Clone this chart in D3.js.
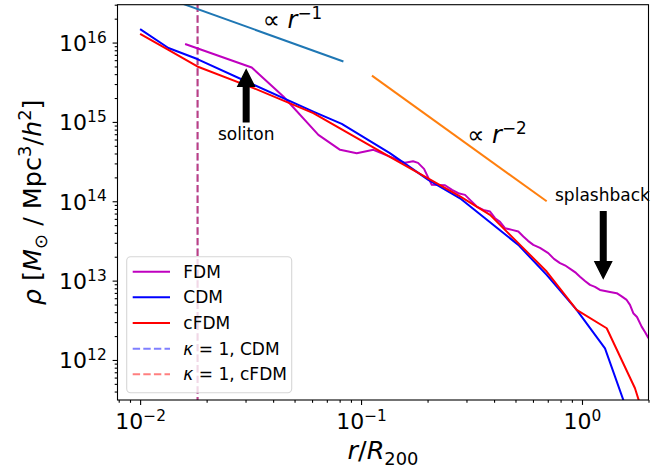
<!DOCTYPE html>
<html>
<head>
<meta charset="utf-8">
<script src="https://cdn.jsdelivr.net/npm/d3@7"></script>
<style>
  html, body { margin: 0; padding: 0; background: #fff; }
  svg { display: block; font-family: "DejaVu Sans", sans-serif; }
</style>
</head>
<body>
<svg id="chart" width="668" height="470"></svg>
<script>
// Stacked radial density profiles, rho(r), for three dark-matter models
const fdmRadius = [0.01598, 0.0320, 0.0445, 0.0641, 0.0804, 0.0956, 0.1137, 0.135, 0.1581, 0.1719,
  0.1811, 0.1928, 0.2089, 0.2399, 0.2581, 0.2757, 0.2955, 0.3147, 0.3339, 0.3576,
  0.3836, 0.4040, 0.4256, 0.4482, 0.4824, 0.5150, 0.5425, 0.5697, 0.6020, 0.6456,
  0.7037, 0.7467, 0.7954, 0.8464, 0.8981, 0.9395, 0.9795, 1.0318, 1.0870, 1.145,
  1.206, 1.271, 1.339, 1.436, 1.501, 1.593, 1.649, 1.707, 1.774, 1.862, 1.928, 2.0];
const fdmDensity = [9.58e15, 4.85e15, 2.09e15, 6.87e14, 4.45e14, 4.04e14, 4.45e14, 3.66e14, 3.05e14, 3.19e14,
  3.05e14, 2.56e14, 1.61e14, 1.59e14, 1.39e14, 1.265e14, 1.204e14, 1.012e14, 8.58e13, 7.79e13,
  7.42e13, 6.12e13, 5.50e13, 4.58e13, 4.36e13, 4.15e13, 3.59e13, 3.17e13, 2.82e13, 2.58e13,
  2.22e13, 1.88e13, 1.66e13, 1.53e13, 1.365e13, 1.25e13, 1.12e13, 9.91e12, 8.83e12, 8.33e12,
  7.63e12, 7.42e12, 7.20e12, 6.94e12, 6.41e12, 5.71e12, 4.94e12, 3.88e12, 3.48e12, 2.63e12, 2.25e12, 1.88e12];

const cdmRadius = [0.01, 0.01343, 0.01815, 0.0326, 0.0608, 0.0818, 0.135, 0.2016, 0.2805, 0.515, 0.692, 0.946, 1.271, 1.70];
const cdmDensity = [1.48e16, 8.53e15, 6.2e15, 2.94e15, 1.35e15, 9.46e14, 4.04e14, 1.86e14, 1.09e14, 2.82e13, 1.18e13, 4.27e12, 1.40e12, 1.43e11];

const cfdmRadius = [0.01, 0.01343, 0.01815, 0.0326, 0.0608, 0.135, 0.2805, 0.3836, 0.515, 0.692, 0.946, 1.294, 1.737, 1.9];
const cfdmDensity = [1.29e16, 8.11e15, 5.0e15, 2.67e15, 1.29e15, 3.63e14, 1.15e14, 6.73e13, 2.97e13, 1.30e13, 4.27e12, 2.51e12, 4.4e11, 2.0e11];

// Radius at which kappa = 1
const kappaCdmRadius = 0.0182;
const kappaCfdmRadius = 0.0182;

// Power-law guides
const guide1Radius = [0.01, 0.0832];
const guide1Density = [4.81e16, 5.78e15];
const guide2Radius = [0.112, 0.692];
const guide2Density = [3.83e15, 1.0e14];
const guide1LabelAt = [0.0359, 1.52e16];
const guide2LabelAt = [0.3027, 5.4e14];

// Annotated features: arrow tail / tip in data units
const solitonArrow = [[0.0302, 1.0e15], [0.0302, 4.55e15]];
const solitonLabelAt = [0.0302, 5.9e14];
const splashArrow = [[1.248, 7.4e13], [1.248, 1.07e13]];
const splashLabelAt = [0.755, 1.0e14];

const xTickValues = [0.01, 0.1, 1];
const xTickExponents = ["\u22122", "\u22121", "0"];
const yTickValues = [1e12, 1e13, 1e14, 1e15, 1e16];
const yTickExponents = ["12", "13", "14", "15", "16"];
const xDomain = [0.0079, 2.0];
const yDomain = [3.13e11, 3.0e16];

const colors = { fdm: "#bf00bf", cdm: "#0000ff", cfdm: "#ff0000", guide1: "#1f77b4", guide2: "#ff7f0e" };

const plot = { left: 117.5, right: 648.5, top: 4.7, bottom: 400 };
const svg = d3.select("#chart");

const x = d3.scaleLog().domain(xDomain).range([plot.left, plot.right]);
const y = d3.scaleLog().domain(yDomain).range([plot.bottom, plot.top]);

svg.append("defs").append("clipPath").attr("id", "plotClip")
  .append("rect")
  .attr("x", plot.left).attr("y", plot.top)
  .attr("width", plot.right - plot.left).attr("height", plot.bottom - plot.top);

// Write a small piece of math-like text made of tspans
function mathText(sel, parts, size) {
  let shift = 0;
  parts.forEach(p => {
    let target = 0;
    if (p.s === "sup") target = -0.38 * size;
    if (p.s === "sub") target = 0.22 * size;
    const ts = sel.append("tspan").text(p.t);
    if (target - shift !== 0) ts.attr("dy", target - shift);
    if (p.s) ts.attr("font-size", 0.7 * size);
    if (p.i) ts.attr("font-style", "italic");
    shift = target;
  });
}

const tickFont = 22;
const labelFont = 25.5;
const major = 4.9, minor = 2.8, pad = 4.9;

// Minor ticks
const xMinor = [];
[0.001, 0.01, 0.1, 1].forEach(b => { for (let k = 2; k <= 9; k++) { const v = b * k; if (v >= xDomain[0] && v <= xDomain[1]) xMinor.push(v); } });
const yMinor = [];
[1e11, 1e12, 1e13, 1e14, 1e15, 1e16].forEach(b => { for (let k = 2; k <= 9; k++) { const v = b * k; if (v >= yDomain[0] && v <= yDomain[1]) yMinor.push(v); } });

const xAxisMinor = svg.append("g").attr("transform", `translate(0,${plot.bottom})`)
  .call(d3.axisBottom(x).tickValues(xMinor).tickSize(minor).tickFormat(""));
const xAxis = svg.append("g").attr("transform", `translate(0,${plot.bottom})`)
  .call(d3.axisBottom(x).tickValues(xTickValues).tickSize(major).tickPadding(pad).tickFormat(""));
const yAxisMinor = svg.append("g").attr("transform", `translate(${plot.left},0)`)
  .call(d3.axisLeft(y).tickValues(yMinor).tickSize(minor).tickFormat(""));
const yAxis = svg.append("g").attr("transform", `translate(${plot.left},0)`)
  .call(d3.axisLeft(y).tickValues(yTickValues).tickSize(major).tickPadding(pad).tickFormat(""));

[xAxisMinor, xAxis, yAxisMinor, yAxis].forEach(g => {
  g.select(".domain").remove();
  g.selectAll(".tick line").attr("stroke", "#000").attr("stroke-width", 1.1);
});

xAxis.selectAll(".tick text").each(function (d, i) {
  const t = d3.select(this).attr("font-size", tickFont).attr("fill", "#000")
    .attr("font-family", "DejaVu Sans").attr("y", 29.3).attr("dy", null);
  mathText(t, [{ t: "10" }, { t: xTickExponents[i], s: "sup" }], tickFont);
});
yAxis.selectAll(".tick text").each(function (d, i) {
  const t = d3.select(this).attr("font-size", tickFont).attr("fill", "#000")
    .attr("font-family", "DejaVu Sans").attr("y", 8).attr("dy", null).attr("x", -(major + pad + 1));
  mathText(t, [{ t: "10" }, { t: yTickExponents[i], s: "sup" }], tickFont);
});

const data = svg.append("g").attr("clip-path", "url(#plotClip)");

// kappa = 1 markers, overlapping at the same radius
[[kappaCdmRadius, colors.cdm], [kappaCfdmRadius, colors.cfdm]].forEach(([r, c]) => {
  data.append("line")
    .attr("x1", x(r)).attr("x2", x(r)).attr("y1", plot.top).attr("y2", plot.bottom)
    .attr("stroke", c).attr("stroke-opacity", 0.5).attr("stroke-width", 2)
    .attr("stroke-dasharray", "7.4,3.2");
});

const line = d3.line().x(d => x(d[0])).y(d => y(d[1]));
function series(rs, vs, color, width) {
  data.append("path").datum(d3.zip(rs, vs)).attr("d", line)
    .attr("fill", "none").attr("stroke", color).attr("stroke-width", width)
    .attr("stroke-linejoin", "round").attr("stroke-linecap", "butt");
}
series(fdmRadius, fdmDensity, colors.fdm, 2);
series(cdmRadius, cdmDensity, colors.cdm, 2);
series(cfdmRadius, cfdmDensity, colors.cfdm, 2);
series(guide1Radius, guide1Density, colors.guide1, 2);
series(guide2Radius, guide2Density, colors.guide2, 2);

// Guide labels
const gl1 = svg.append("text").attr("x", x(guide1LabelAt[0])).attr("y", y(guide1LabelAt[1])).attr("font-size", 24).attr("fill", "#000");
mathText(gl1, [{ t: "\u221D " }, { t: "r", i: true }, { t: "\u22121", s: "sup" }], 24);
const gl2 = svg.append("text").attr("x", x(guide2LabelAt[0])).attr("y", y(guide2LabelAt[1])).attr("font-size", 24).attr("fill", "#000");
mathText(gl2, [{ t: "\u221D " }, { t: "r", i: true }, { t: "\u22122", s: "sup" }], 24);

// Block arrows for annotated features
function blockArrow(tail, tip) {
  const x0 = x(tail[0]), y0 = y(tail[1]), x1 = x(tip[0]), y1 = y(tip[1]);
  const len = Math.hypot(x1 - x0, y1 - y0);
  const ux = (x1 - x0) / len, uy = (y1 - y0) / len, nx = -uy, ny = ux;
  const w = 2.8, hw = 8.35, hl = 16.7;
  const bx = x1 - ux * hl, by = y1 - uy * hl;
  const pts = [
    [x0 + nx * w, y0 + ny * w], [bx + nx * w, by + ny * w], [bx + nx * hw, by + ny * hw],
    [x1, y1], [bx - nx * hw, by - ny * hw], [bx - nx * w, by - ny * w], [x0 - nx * w, y0 - ny * w]
  ];
  svg.append("path").attr("d", "M" + pts.map(p => p.join(",")).join("L") + "Z")
    .attr("fill", "#000").attr("stroke", "#000").attr("stroke-width", 1.4).attr("stroke-linejoin", "miter");
}
blockArrow(solitonArrow[0], solitonArrow[1]);
blockArrow(splashArrow[0], splashArrow[1]);

svg.append("text").attr("x", x(solitonLabelAt[0])).attr("y", y(solitonLabelAt[1]))
  .attr("text-anchor", "middle").attr("font-size", 17).attr("fill", "#000").text("soliton");
svg.append("text").attr("x", x(splashLabelAt[0])).attr("y", y(splashLabelAt[1]))
  .attr("font-size", 17).attr("fill", "#000").text("splashback");

// Frame
svg.append("rect").attr("x", plot.left).attr("y", plot.top)
  .attr("width", plot.right - plot.left).attr("height", plot.bottom - plot.top)
  .attr("fill", "none").attr("stroke", "#000").attr("stroke-width", 1.1);

// Axis titles
const xl = svg.append("text").attr("x", (plot.left + plot.right) / 2).attr("y", 459)
  .attr("text-anchor", "middle").attr("font-size", labelFont).attr("fill", "#000");
mathText(xl, [{ t: "r", i: true }, { t: "/" }, { t: "R", i: true }, { t: "200", s: "sub" }], labelFont);

const yl = svg.append("text").attr("transform", `translate(41,${(plot.top + plot.bottom) / 2}) rotate(-90)`)
  .attr("text-anchor", "middle").attr("font-size", labelFont).attr("fill", "#000");
mathText(yl, [{ t: "\u03C1", i: true }, { t: " [" }, { t: "M", i: true }, { t: "\u2299", s: "sub" },
  { t: " / Mpc" }, { t: "3", s: "sup" }, { t: "/" }, { t: "h", i: true }, { t: "2", s: "sup" }, { t: "]" }], labelFont);

// Legend
const legendItems = [
  { label: [{ t: "FDM" }], color: colors.fdm, dash: null, op: 1 },
  { label: [{ t: "CDM" }], color: colors.cdm, dash: null, op: 1 },
  { label: [{ t: "cFDM" }], color: colors.cfdm, dash: null, op: 1 },
  { label: [{ t: "\u03BA", i: true }, { t: " = 1, CDM" }], color: colors.cdm, dash: "7.4,3.2", op: 0.5 },
  { label: [{ t: "\u03BA", i: true }, { t: " = 1, cFDM" }], color: colors.cfdm, dash: "7.4,3.2", op: 0.5 }
];
const lg = svg.append("g");
lg.append("rect").attr("x", 126.7).attr("y", 256.7).attr("width", 165).attr("height", 136)
  .attr("rx", 4).attr("fill", "#fff").attr("fill-opacity", 0.8)
  .attr("stroke", "#ccc").attr("stroke-opacity", 0.8).attr("stroke-width", 1.1);
legendItems.forEach((it, i) => {
  const cy = 271.7 + i * 25.65;
  lg.append("line").attr("x1", 132.7).attr("x2", 170).attr("y1", cy).attr("y2", cy)
    .attr("stroke", it.color).attr("stroke-opacity", it.op).attr("stroke-width", 2)
    .attr("stroke-dasharray", it.dash);
  const t = lg.append("text").attr("x", 183.3).attr("y", cy + 6).attr("font-size", 17).attr("fill", "#000");
  mathText(t, it.label, 17);
});
</script>
</body>
</html>
